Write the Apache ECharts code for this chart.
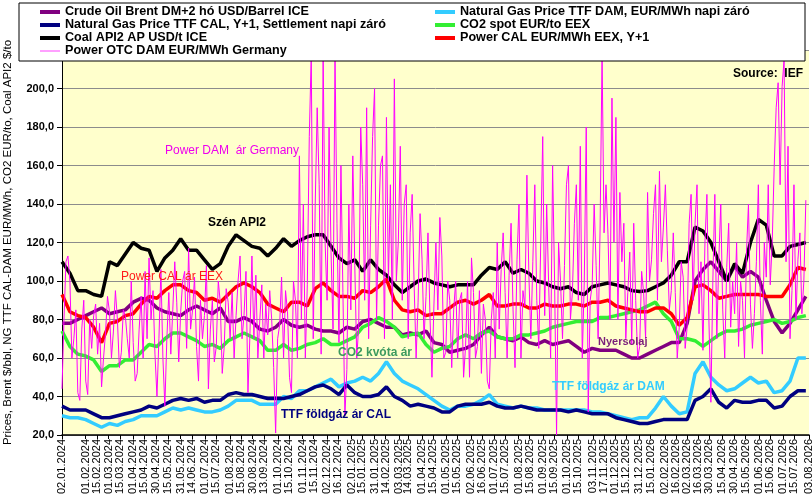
<!DOCTYPE html>
<html>
<head>
<meta charset="utf-8">
<script src="https://cdn.jsdelivr.net/npm/echarts@6.0.0/dist/echarts.min.js"></script>
<style>
html,body{margin:0;padding:0;background:#fff;}
#chart{width:812px;height:499px;}
</style>
</head>
<body>
<div id="chart"></div>
<script>
// ---- tick labels (dates shown on the x axis) ----
const tickLabels = ['02.01.2024','15.01.2024','01.02.2024','15.02.2024','01.03.2024','15.03.2024','01.04.2024','15.04.2024','30.04.2024','15.05.2024','31.05.2024','14.06.2024','01.07.2024','15.07.2024','01.08.2024','15.08.2024','30.08.2024','13.09.2024','01.10.2024','15.10.2024','01.11.2024','15.11.2024','02.12.2024','16.12.2024',
'02.01.2025','15.01.2025','31.01.2025','14.02.2025','03.03.2025','14.03.2025','01.04.2025','15.04.2025','01.05.2025','15.05.2025','02.06.2025','16.06.2025','01.07.2025','15.07.2025','01.08.2025','15.08.2025','01.09.2025','15.09.2025','01.10.2025','15.10.2025','03.11.2025','17.11.2025','01.12.2025','15.12.2025','31.12.2025',
'15.01.2026','02.02.2026','16.02.2026','02.03.2026','16.03.2026','30.03.2026','15.04.2026','30.04.2026','15.05.2026','01.06.2026','15.06.2026','01.07.2026','15.07.2026','03.08.2026'];

// sampling: first date, and the spacing (days) of the read-off values
const startDate = '02.01.2024';
const endDate = '03.08.2026';
const smoothStepDays = 10;
const damStepDays = 2.5;

// ---- series values ----
const brentPrices = [78,78,80,82,84,86,83,84,85,89, 91,90,86,84,83,82,85,87,85,83, 86,79,79,81,79,75,74,76,80,77, 76,77,75,74,74,73,76,75,79,80, 78,76,76,72,73,72,74,68,67,63, 64,65,67,72,76,71,70,69,71,68, 67,69,67,68,69,66,63,65,64,64, 64,62,60,60,62,64,66,68,68,78, 100,106,110,105,100,108,102,105,102,90, 79,73,78,85,92];
const ttfDamPrices = [30,29,29,28,26,24,26,25,27,28, 30,30,30,32,34,33,34,33,32,32, 33,35,38,38,38,36,36,36,40,39, 43,43,45,47,49,45,47,48,50,48, 52,58,52,48,46,44,41,38,35,33, 35,35,36,38,41,36,35,34,35,34, 34,33,33,33,33,33,33,32,32,31, 30,29,28,29,29,34,40,35,31,32, 52,58,50,46,43,44,47,50,47,48, 42,43,48,60,60];
const ttfCalPrices = [35,33,33,33,31,29,29,30,31,32, 33,35,34,36,38,39,38,39,37,38, 38,41,42,41,41,40,39,39,39,40, 41,43,45,46,44,41,46,42,40,40, 41,45,40,38,35,36,35,34,32,32, 35,36,36,36,37,35,34,34,35,34, 33,33,33,33,32,33,32,31,31,31, 29,28,27,26,26,27,28,28,28,28, 38,40,44,37,34,38,37,37,38,38, 34,35,40,43,43];
const co2Prices = [74,66,62,61,59,53,56,56,59,59, 63,67,66,70,73,73,71,69,66,67, 65,69,71,73,71,69,64,64,67,64, 65,67,68,70,67,67,69,71,76,78, 81,79,76,71,72,73,67,63,65,66, 70,72,70,73,74,71,70,70,72,72, 73,74,76,77,78,79,79,79,81,81, 82,83,84,85,87,89,83,79,70,70, 69,66,69,72,74,74,75,77,78,79, 80,78,79,81,82];
const coalPrices = [110,104,95,95,93,92,110,108,114,120, 117,116,105,112,116,122,116,116,111,106, 109,118,124,121,118,117,113,117,122,118, 121,123,124,124,118,112,109,111,105,111, 106,103,98,94,97,100,101,99,98,97, 98,98,98,103,107,106,110,104,106,104, 100,99,97,96,97,94,93,97,98,99, 98,97,95,94.5,95,97,99,103,110,110, 128,126,120,110,100,109,104,120,132,129, 113,113,118,119,120];
const powerCalPrices = [93,84,82,81,76,68,78,79,82,83, 88,92,91,95,98,98,95,94,90,91, 89,93,97,99,97,94,88,86,84,89, 89,87,96,99,95,92,92,91,95,94, 97,101,90,85,84,85,82,83,83,86, 89,90,88,90,93,87,87,88,88,86, 86,88,87,87,88,88,87,89,89,90, 87,86,85,84,84,86,86,83,77,81, 97,98,95,91,92,93,93,93,93,92, 92,92,98,107,106];
const powerDamPrices = [
 44,80, 110,113, 100,60, 70,85, 42,38, 75,90, 48,41, 80,65, 82,88, 62,78,
 45,60, 73,92, 84,60, 74,95, 80,55, 63,85, 82,70, 60,100, 68,48, 52,75,
 92,60, 105,70, 112,80, 95,62, 40,70, 106,60, 35,70, 94,62, 85,110, 89,58,
 84,100, 105,65, 117,75, 85,102, 66,48, 90,70, 82,108, 44,75, 90,58, 66,100,
 89,52, 66,96, 89,70, 94,60, 82,100, 113,70, 82,105, 42,72, 113,70, 103,60,
 80,98, 60,88, 72,95, 80,55, 21,70, 77,102, 60,95, 84,50, 42,100, 90,60,
 165,80, 140,60, 98,175, 218,70, 140,190, 150,62, 218,120, 90,180, 115,75, 218,130,
 68,160, 94,30, 54,140, 85,165, 108,60, 77,180, 150,90, 190,70, 129,175, 200,80,
 129,160, 165,70, 185,100, 150,80, 205,100, 120,170, 90,140, 150,70, 125,145, 98,60,
 89,135, 111,70, 92,125, 82,50, 87,120, 85,133, 113,60, 63,100, 90,55, 85,100,
 60,90, 94,50, 66,100, 50,112, 94,60, 66,95, 52,88, 80,48, 44,80, 94,60,
 120,75, 106,125, 94,60, 103,130, 85,55, 111,140, 60,95, 87,155, 103,70, 110,150,
 90,65, 120,175, 82,140, 98,60, 160,100, 20,120, 100,70, 108,150, 160,80, 94,130,
 150,90, 170,60, 100,180, 32,90, 98,140, 108,70, 127,218, 125,150, 124,80, 195,120,
 185,80, 146,110, 130,70, 94,115, 67,130, 90,60, 66,105, 94,70, 146,100, 111,135,
 150,90, 157,110, 128,150, 116,85, 95,125, 94,60, 76,110, 102,65, 76,130, 145,90,
 130,150, 83,110, 64,120, 145,80, 37,100, 145,70, 111,140, 85,60, 107,130, 76,100,
 83,120, 66,100, 90,60, 115,140, 88,65, 83,110, 150,90, 62,120, 102,150, 98,120,
 159,190, 203,150, 201,215, 110,170, 70,95, 150,80, 111,125, 83,100, 142];

// ---- series names ----
const nameBrent = 'Crude Oil Brent DM+2 hó USD/Barrel ICE';
const nameTtfCal = 'Natural Gas Price TTF CAL, Y+1, Settlement napi záró';
const nameCoal = 'Coal API2 AP USD/t ICE';
const nameDam = 'Power OTC DAM EUR/MWh Germany';
const nameTtfDam = 'Natural Gas Price TTF DAM, EUR/MWh napi záró';
const nameCo2 = 'CO2 spot EUR/to EEX';
const namePowerCal = 'Power CAL EUR/MWh EEX, Y+1';

const DAY = 86400000;
function parseDate(s){ const p = s.split('.'); return Date.UTC(+p[2], +p[1]-1, +p[0]); }
function pad(n){ return (n<10?'0':'')+n; }
function fmtDate(t){ const d = new Date(t); return pad(d.getUTCDate())+'.'+pad(d.getUTCMonth()+1)+'.'+d.getUTCFullYear(); }
const t0 = parseDate(startDate);
function toSeries(values, step){ return values.map((v,i)=>[t0 + i*step*DAY, v]); }
const tickValues = tickLabels.map(parseDate);

const FONT = 'Arial, "Liberation Sans", sans-serif';
const chart = echarts.init(document.getElementById('chart'), null, {renderer:'canvas'});

function lineSeries(name, values, step, color, width, z){
  return {name, type:'line', data: toSeries(values, step), showSymbol:false, symbol:'none',
    lineStyle:{color, width}, itemStyle:{color}, z: z||2, animation:false, clip:true};
}

const legendText = {fontFamily: FONT, fontWeight:'bold', fontSize:12.6, color:'#000', lineHeight:13};
const option = {
  animation:false,
  backgroundColor:'#ffffff',
  grid:{left:62, right:3, top:50, bottom:64, show:true, backgroundColor:'#FFFFCC', borderWidth:0,
        containLabel:false, outerBoundsMode:'none'},
  xAxis:{
    type:'value', min:t0, max:parseDate(endDate), scale:true,
    axisLine:{lineStyle:{color:'#000', width:1.5}},
    axisTick:{show:true, length:4, lineStyle:{color:'#000'}, customValues: tickValues},
    axisLabel:{rotate:90, fontSize:11, fontFamily:FONT, color:'#000', margin:4,
      customValues: tickValues, formatter: (v)=>fmtDate(v), hideOverlap:false, showMinLabel:true, showMaxLabel:true},
    splitLine:{show:false}
  },
  yAxis:{
    type:'value', min:20, max:220, interval:20,
    name:'Prices, Brent $/bbl, NG TTF CAL-DAM EUR/MWh, CO2 EUR/to, Coal API2 $/to',
    nameLocation:'middle', nameGap:48, nameRotate:90,
    nameTextStyle:{fontFamily:FONT, fontSize:11.5, color:'#000'},
    axisLine:{show:true, lineStyle:{color:'#000', width:1}},
    axisTick:{show:true, length:5, lineStyle:{color:'#000'}},
    axisLabel:{fontFamily:FONT, fontWeight:'bold', fontSize:11, color:'#000', margin:8,
      formatter:(v)=>v.toFixed(1).replace('.',',')},
    splitLine:{show:true, lineStyle:{color:'#8c8c8c', width:1}}
  },
  legend:[
    {orient:'vertical', left:40, top:5.5, padding:0, itemGap:0, itemWidth:20, itemHeight:4, z:6,
     textStyle:legendText, selectedMode:false,
     data:[{name:nameBrent, icon:'rect'},{name:nameTtfCal, icon:'rect'},{name:nameCoal, icon:'rect'},{name:nameDam, icon:'path://M0,0H40V1.5H0Z'}]},
    {orient:'vertical', left:435, top:5.5, padding:0, itemGap:0, itemWidth:20, itemHeight:4, z:6,
     textStyle:legendText, selectedMode:false,
     data:[{name:nameTtfDam, icon:'rect'},{name:nameCo2, icon:'rect'},{name:namePowerCal, icon:'rect'}]}
  ],
  graphic:[
    {type:'rect', z:3, shape:{x:19, y:3, width:786, height:58}, style:{fill:'#fff', stroke:'#000', lineWidth:1}},
    {type:'text', z:5, x:803, y:74, style:{text:'Source:  IEF', align:'right', verticalAlign:'middle', font:'bold 12px '+FONT, fill:'#000'}},
    {type:'text', z:5, x:208, y:223, style:{text:'Szén API2', verticalAlign:'middle', font:'bold 12px '+FONT, fill:'#000'}},
    {type:'text', z:5, x:121, y:277, style:{text:'Power CAL ár EEX', verticalAlign:'middle', font:'12px '+FONT, fill:'#ff1a1a'}},
    {type:'text', z:5, x:165, y:151, style:{text:'Power DAM  ár Germany', verticalAlign:'middle', font:'12px '+FONT, fill:'#ee00ee'}},
    {type:'text', z:5, x:338, y:353, style:{text:'CO2 kvóta ár', verticalAlign:'middle', font:'bold 12px '+FONT, fill:'#3c9a5f'}},
    {type:'text', z:5, x:281, y:415, style:{text:'TTF földgáz ár CAL', verticalAlign:'middle', font:'bold 12px '+FONT, fill:'#000080'}},
    {type:'text', z:5, x:552, y:387, style:{text:'TTF földgáz ár DAM', verticalAlign:'middle', font:'bold 12px '+FONT, fill:'#33ccff'}},
    {type:'text', z:5, x:598, y:342, style:{text:'Nyersolaj', verticalAlign:'middle', font:'bold 11px '+FONT, fill:'#7a1f7a'}}
  ],
  series:[
    lineSeries(nameBrent, brentPrices, smoothStepDays, '#800080', 3.5),
    lineSeries(nameTtfDam, ttfDamPrices, smoothStepDays, '#33ccff', 3.5),
    lineSeries(nameTtfCal, ttfCalPrices, smoothStepDays, '#000080', 3.5),
    lineSeries(nameCo2, co2Prices, smoothStepDays, '#33ee33', 3.5),
    lineSeries(nameCoal, coalPrices, smoothStepDays, '#000000', 3.5),
    lineSeries(namePowerCal, powerCalPrices, smoothStepDays, '#ff0000', 3.5),
    lineSeries(nameDam, powerDamPrices, damStepDays, '#ff00ff', 1)
  ]
};
chart.setOption(option);
</script>
</body>
</html>
